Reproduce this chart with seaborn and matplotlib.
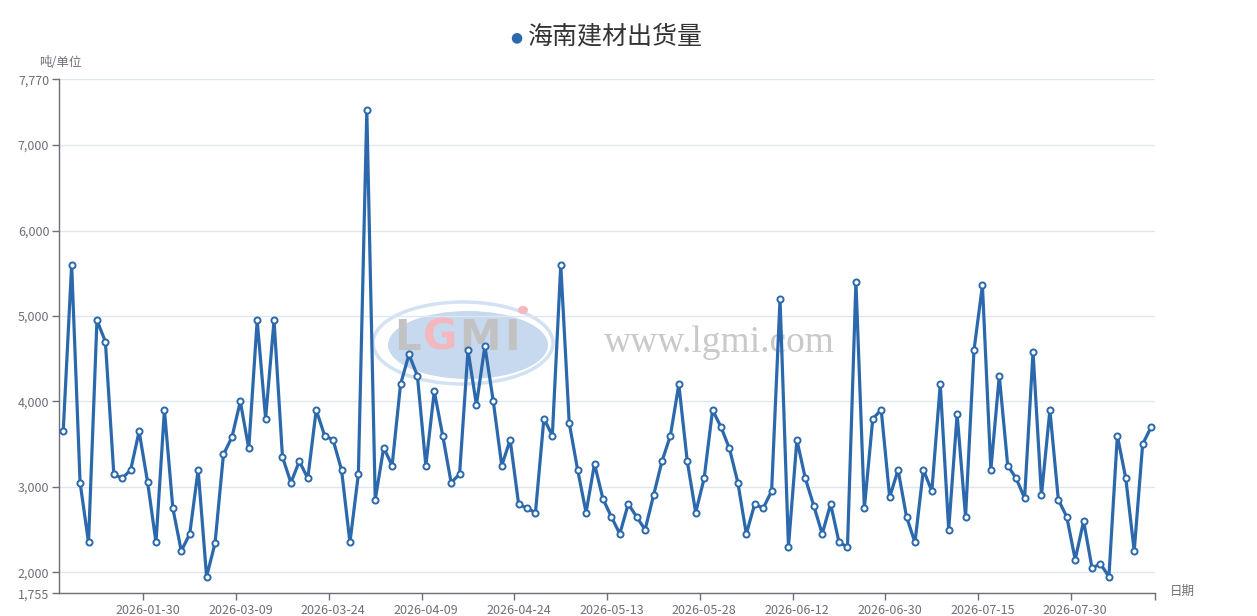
import matplotlib
matplotlib.use("Agg")
import matplotlib.pyplot as plt
import seaborn as sns
import pandas as pd
import numpy as np
from matplotlib.patches import Ellipse
from matplotlib.transforms import IdentityTransform

# ---------------- data ----------------
values = [
    3650, 5600, 3050, 2350, 4950, 4700, 3150, 3100, 3200, 3650,
    3060, 2350, 3900, 2750, 2250, 2450, 3200, 1950, 2340, 3380,
    3580, 4000, 3450, 4950, 3800, 4950, 3350, 3050, 3300, 3100,
    3900, 3600, 3550, 3200, 2350, 3150, 7410, 2850, 3460, 3250,
    4200, 4550, 4300, 3250, 4120, 3600, 3050, 3150, 4600, 3960,
    4650, 4000, 3250, 3550, 2800, 2750, 2700, 3800, 3600, 5600,
    3750, 3200, 2700, 3270, 2860, 2650, 2450, 2800, 2650, 2500,
    2900, 3300, 3600, 4200, 3300, 2700, 3100, 3900, 3700, 3450,
    3050, 2450, 2800, 2750, 2950, 5200, 2300, 3550, 3100, 2780,
    2450, 2800, 2350, 2300, 5400, 2750, 3800, 3900, 2880, 3200,
    2650, 2350, 3200, 2950, 4200, 2500, 3850, 2650, 4600, 5360,
    3200, 4300, 3250, 3100, 2870, 4580, 2900, 3900, 2850, 2650,
    2150, 2600, 2050, 2100, 1950, 3600, 3100, 2250, 3500, 3700,
]
tick_labels = ["2026-01-30", "2026-03-09", "2026-03-24", "2026-04-09",
               "2026-04-24", "2026-05-13", "2026-05-28", "2026-06-12",
               "2026-06-30", "2026-07-15", "2026-07-30"]
y_ticks = [1755, 2000, 3000, 4000, 5000, 6000, 7000, 7770]
title = "海南建材出货量"
y_unit = "吨/单位"
x_name = "日期"

df = pd.DataFrame({"idx": np.arange(len(values)), "value": values})

# ---------------- style ----------------
sns.set_theme(style="white")
plt.rcParams["font.family"] = ["Noto Sans CJK SC", "DejaVu Sans"]

LINE = "#2b69ac"
AXIS = "#6e7079"
GRID = "#e0e6f1"

W, H = 1257, 616
fig = plt.figure(figsize=(W / 100, H / 100), dpi=100)
ax = fig.add_axes([59 / W, (H - 593.3) / H, (1155.3 - 59) / W, (593.3 - 79.3) / H])

# watermark (behind the line)
pix = IdentityTransform()
ring = Ellipse((463, H - 343), 180, 82, transform=pix, facecolor="none",
               edgecolor="#d3e2f2", linewidth=2.5, zorder=0.5, clip_on=False)
fill = Ellipse((468, H - 345), 160, 68, transform=pix, facecolor="#c6d9ee",
               edgecolor="none", zorder=0.5, clip_on=False)
ax.add_patch(fill)
ax.add_patch(ring)
for ch, xx, col in [("L", 407, "#c3c2c2"), ("G", 440, "#f4b7be"),
                    ("M", 480, "#c3c2c2"), ("I", 512, "#c3c2c2")]:
    ax.text(xx, H - 338, ch, transform=pix, fontsize=30, fontweight="bold",
            color=col, ha="center", va="center", family="DejaVu Sans",
            zorder=0.6, clip_on=False)
ax.add_patch(Ellipse((523, H - 310), 10, 8, transform=pix, facecolor="#f4b7be",
                     edgecolor="none", zorder=0.6, clip_on=False))
ax.text(719, H - 343, "www.lgmi.com", transform=pix, fontsize=27,
        color="#c9c9c9", ha="center", va="center",
        family=["Liberation Serif", "DejaVu Serif"], zorder=0.6)

sns.lineplot(data=df, x="idx", y="value", ax=ax, color=LINE, linewidth=2.3,
             marker="o", markersize=4.4, markerfacecolor="white",
             markeredgecolor=LINE, markeredgewidth=1.4, zorder=3)

# axes limits & ticks
n = len(values)
ax.set_xlim(-0.5, n - 0.5)
ax.set_ylim(y_ticks[0], y_ticks[-1])
label_pos = [10 + 11 * k for k in range(len(tick_labels))]
ax.set_xticks(label_pos)
ax.set_xticklabels(tick_labels)
ax.set_xticks([p - 0.5 for p in label_pos] + [n - 0.5], minor=True)
ax.tick_params(axis="x", which="major", length=0, pad=8, labelsize=9,
               labelcolor=AXIS)
ax.tick_params(axis="x", which="minor", length=5, width=1, color=AXIS,
               direction="out")
ax.set_yticks(y_ticks)
ax.set_yticklabels([f"{v:,}" for v in y_ticks])
ax.tick_params(axis="y", length=5, width=1, color=AXIS, labelsize=9,
               labelcolor=AXIS, pad=2, direction="out")
ax.tick_params(bottom=True, left=True, which="both")

ax.grid(axis="y", color=GRID, linewidth=1)
ax.grid(axis="x", visible=False)
ax.set_axisbelow(True)
for side in ["top", "right"]:
    ax.spines[side].set_visible(False)
for side in ["left", "bottom"]:
    ax.spines[side].set_color(AXIS)
    ax.spines[side].set_linewidth(1)
ax.set_xlabel("")
ax.set_ylabel("")

# title with legend dot
fig.text(516 / W, 1 - 37 / H, "●", color=LINE, fontsize=10, ha="center",
         va="center", family="DejaVu Sans")
fig.text(528 / W, 1 - 36 / H, title, color="#333333", fontsize=18,
         ha="left", va="center")
fig.text(39 / W, 1 - 62 / H, y_unit, color=AXIS, fontsize=9, ha="left",
         va="center")
fig.text(1170 / W, 1 - 591 / H, x_name, color=AXIS, fontsize=9, ha="left",
         va="center")

fig.savefig("out.png", dpi=100)
